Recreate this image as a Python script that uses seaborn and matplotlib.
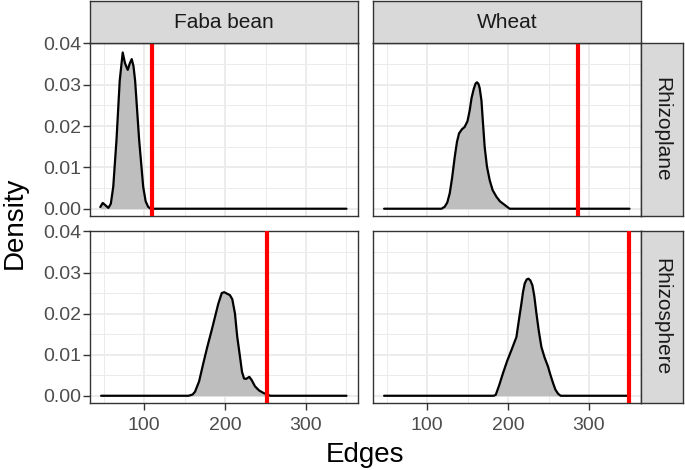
"""
Density of network edges by plant and compartment, with observed value
"""

import matplotlib
matplotlib.use('Agg')
import matplotlib.pyplot as plt
import seaborn as sns
import pandas as pd
import numpy as np


# Facet labels
plants = ['Faba bean', 'Wheat']
compartments = ['Rhizoplane', 'Rhizosphere']

# Density curves
faba_rhizoplane_x = [46, 49, 52, 56, 59, 62, 66, 70, 73.7, 76.5, 79.9, 82.5, 84.8,
                     87, 89, 94, 99, 102, 105, 108, 350]
faba_rhizoplane_y = [0.0004, 0.0014, 0.0009, 0.0002, 0.0012, 0.0053, 0.0166, 0.031,
                     0.0378, 0.0352, 0.0336, 0.0352, 0.0362, 0.0345, 0.031, 0.0166,
                     0.0053, 0.0018, 0.0005, 0.0, 0.0]

faba_rhizosphere_x = [47, 155, 160, 163, 168, 173.2, 178, 183.6, 191.7, 196, 199, 206,
                      209, 212.3, 215, 218.5, 221, 223.5, 226, 230, 233, 237, 242,
                      247.3, 252, 256, 350]
faba_rhizosphere_y = [0, 0, 0.0003, 0.001, 0.0035, 0.0079, 0.0118, 0.016, 0.0224, 0.025,
                      0.0252, 0.0245, 0.0235, 0.020, 0.0145, 0.0095, 0.0058, 0.0042,
                      0.0041, 0.0046, 0.0038, 0.0023, 0.0013, 0.0007, 0.0003, 0, 0]

wheat_rhizoplane_x = [47, 118, 121.9, 125, 128, 131, 134.2, 137, 139.5, 143, 146.5, 150,
                      152.7, 155, 157.7, 160, 161.7, 163.5, 165, 167.2, 169, 171.2, 174,
                      177.4, 181, 185.7, 190, 196, 202, 350]
wheat_rhizoplane_y = [0, 0, 0.0005, 0.0015, 0.0037, 0.0075, 0.0125, 0.0162, 0.0182,
                      0.0192, 0.0198, 0.0212, 0.0238, 0.0268, 0.029, 0.0303, 0.0306,
                      0.0302, 0.0292, 0.0262, 0.021, 0.0149, 0.0102, 0.0069, 0.0045,
                      0.0029, 0.0018, 0.0009, 0.0, 0]

wheat_rhizosphere_x = [47, 182, 184.8, 189, 193.8, 199, 204.2, 210.4, 213.5, 216.5, 218.5,
                       220.6, 223, 225.2, 227.5, 230.1, 232.5, 235.1, 238, 241.2, 245,
                       249.4, 252.5, 255.6, 258.5, 261.8, 265, 350]
wheat_rhizosphere_y = [0, 0, 0.0002, 0.0025, 0.0055, 0.0085, 0.0111, 0.0143, 0.0185,
                       0.0224, 0.0252, 0.0273, 0.0283, 0.0285, 0.0281, 0.0269, 0.0242,
                       0.020, 0.0158, 0.0119, 0.0094, 0.0071, 0.005, 0.0031, 0.0015,
                       0.0005, 0, 0]

# Observed edge counts (red lines)
observed_edges = {('Faba bean', 'Rhizoplane'): 110, ('Wheat', 'Rhizoplane'): 286,
                  ('Faba bean', 'Rhizosphere'): 252, ('Wheat', 'Rhizosphere'): 349}

curves = {('Faba bean', 'Rhizoplane'): (faba_rhizoplane_x, faba_rhizoplane_y),
          ('Wheat', 'Rhizoplane'): (wheat_rhizoplane_x, wheat_rhizoplane_y),
          ('Faba bean', 'Rhizosphere'): (faba_rhizosphere_x, faba_rhizosphere_y),
          ('Wheat', 'Rhizosphere'): (wheat_rhizosphere_x, wheat_rhizosphere_y)}

x_ticks = [100, 200, 300]
y_ticks = [0.00, 0.01, 0.02, 0.03, 0.04]


# General plot parameters
sns.set_style('white')
plt.rcParams['font.family'] = ['Liberation Sans', 'DejaVu Sans']
W, H = 685, 470
border = '#333333'


def rect(left, top, right, bottom):
    """Convert pixel box to figure fraction"""
    return [left / W, 1 - bottom / H, (right - left) / W, (bottom - top) / H]


def style_strip(sax):
    """Grey strip box with dark border"""
    sax.set_facecolor('#D9D9D9')
    sax.set_xticks([])
    sax.set_yticks([])
    for s in sax.spines.values():
        s.set_color(border)
        s.set_linewidth(1.0)
        s.set_visible(True)


def main():
    fig = plt.figure(figsize=(W / 100, H / 100), dpi=100)
    fig.patch.set_color('white')

    cols = [(90, 358), (373, 641)]
    rows = [(43, 216), (231, 403)]

    for r, comp in enumerate(compartments):
        for c, plant in enumerate(plants):
            left, right = cols[c]
            top, bottom = rows[r]
            ax = fig.add_axes(rect(left, top, right, bottom))

            xs, ys = curves[(plant, comp)]
            df = pd.DataFrame({'Edges': xs, 'Density': ys})
            ax.fill_between(df['Edges'], df['Density'], 0, color='#BEBEBE', lw=0, zorder=2)
            sns.lineplot(x='Edges', y='Density', data=df, ax=ax, color='black',
                         linewidth=1.6, sort=False, estimator=None, zorder=3)
            ax.axvline(observed_edges[(plant, comp)], color='red', linewidth=3.0, zorder=4)

            ax.set_xlim(33.3, 364.2)
            ax.set_ylim(-0.00176, 0.0401)
            ax.set_xticks(x_ticks)
            ax.set_xticks([50, 150, 250, 350], minor=True)
            ax.set_yticks(y_ticks)
            ax.set_yticks([0.005, 0.015, 0.025, 0.035], minor=True)
            ax.grid(which='major', color='#EBEBEB', linewidth=1.3, zorder=0)
            ax.grid(which='minor', color='#EBEBEB', linewidth=0.7, zorder=0)
            ax.set_axisbelow(True)
            for s in ax.spines.values():
                s.set_color(border)
                s.set_linewidth(1.0)
                s.set_visible(True)
            ax.set_xlabel('')
            ax.set_ylabel('')

            ax.tick_params(which='major', length=5, width=1.0, color=border,
                           labelsize=14, labelcolor='#4D4D4D',
                           bottom=(r == 1), left=(c == 0),
                           labelbottom=(r == 1), labelleft=(c == 0))
            ax.tick_params(axis='x', which='major', pad=5)
            ax.tick_params(axis='y', which='major', pad=1)
            ax.tick_params(which='minor', length=0)
            if c == 0:
                ax.set_yticklabels([f'{v:.2f}' for v in y_ticks])

            # Top strips
            if r == 0:
                sax = fig.add_axes(rect(left, 1, right, 43))
                style_strip(sax)
                sax.text(0.5, 0.5, plant, ha='center', va='center', fontsize=15,
                         color='#1A1A1A', transform=sax.transAxes)

            # Right strips
            if c == 1:
                sax = fig.add_axes(rect(641, top, 683, bottom))
                style_strip(sax)
                sax.text(0.5, 0.5, comp, ha='center', va='center', fontsize=15,
                         color='#1A1A1A', rotation=270, transform=sax.transAxes)

    # Axis titles
    fig.text(15 / W, 1 - 223 / H, 'Density', rotation=90, ha='center', va='center',
             fontsize=20, color='black')
    fig.text(365.5 / W, 1 - 455 / H, 'Edges', ha='center', va='center',
             fontsize=20, color='black')

    fig.savefig('out.png', dpi=100, facecolor='white')
    plt.close(fig)


if __name__ == '__main__':
    main()
